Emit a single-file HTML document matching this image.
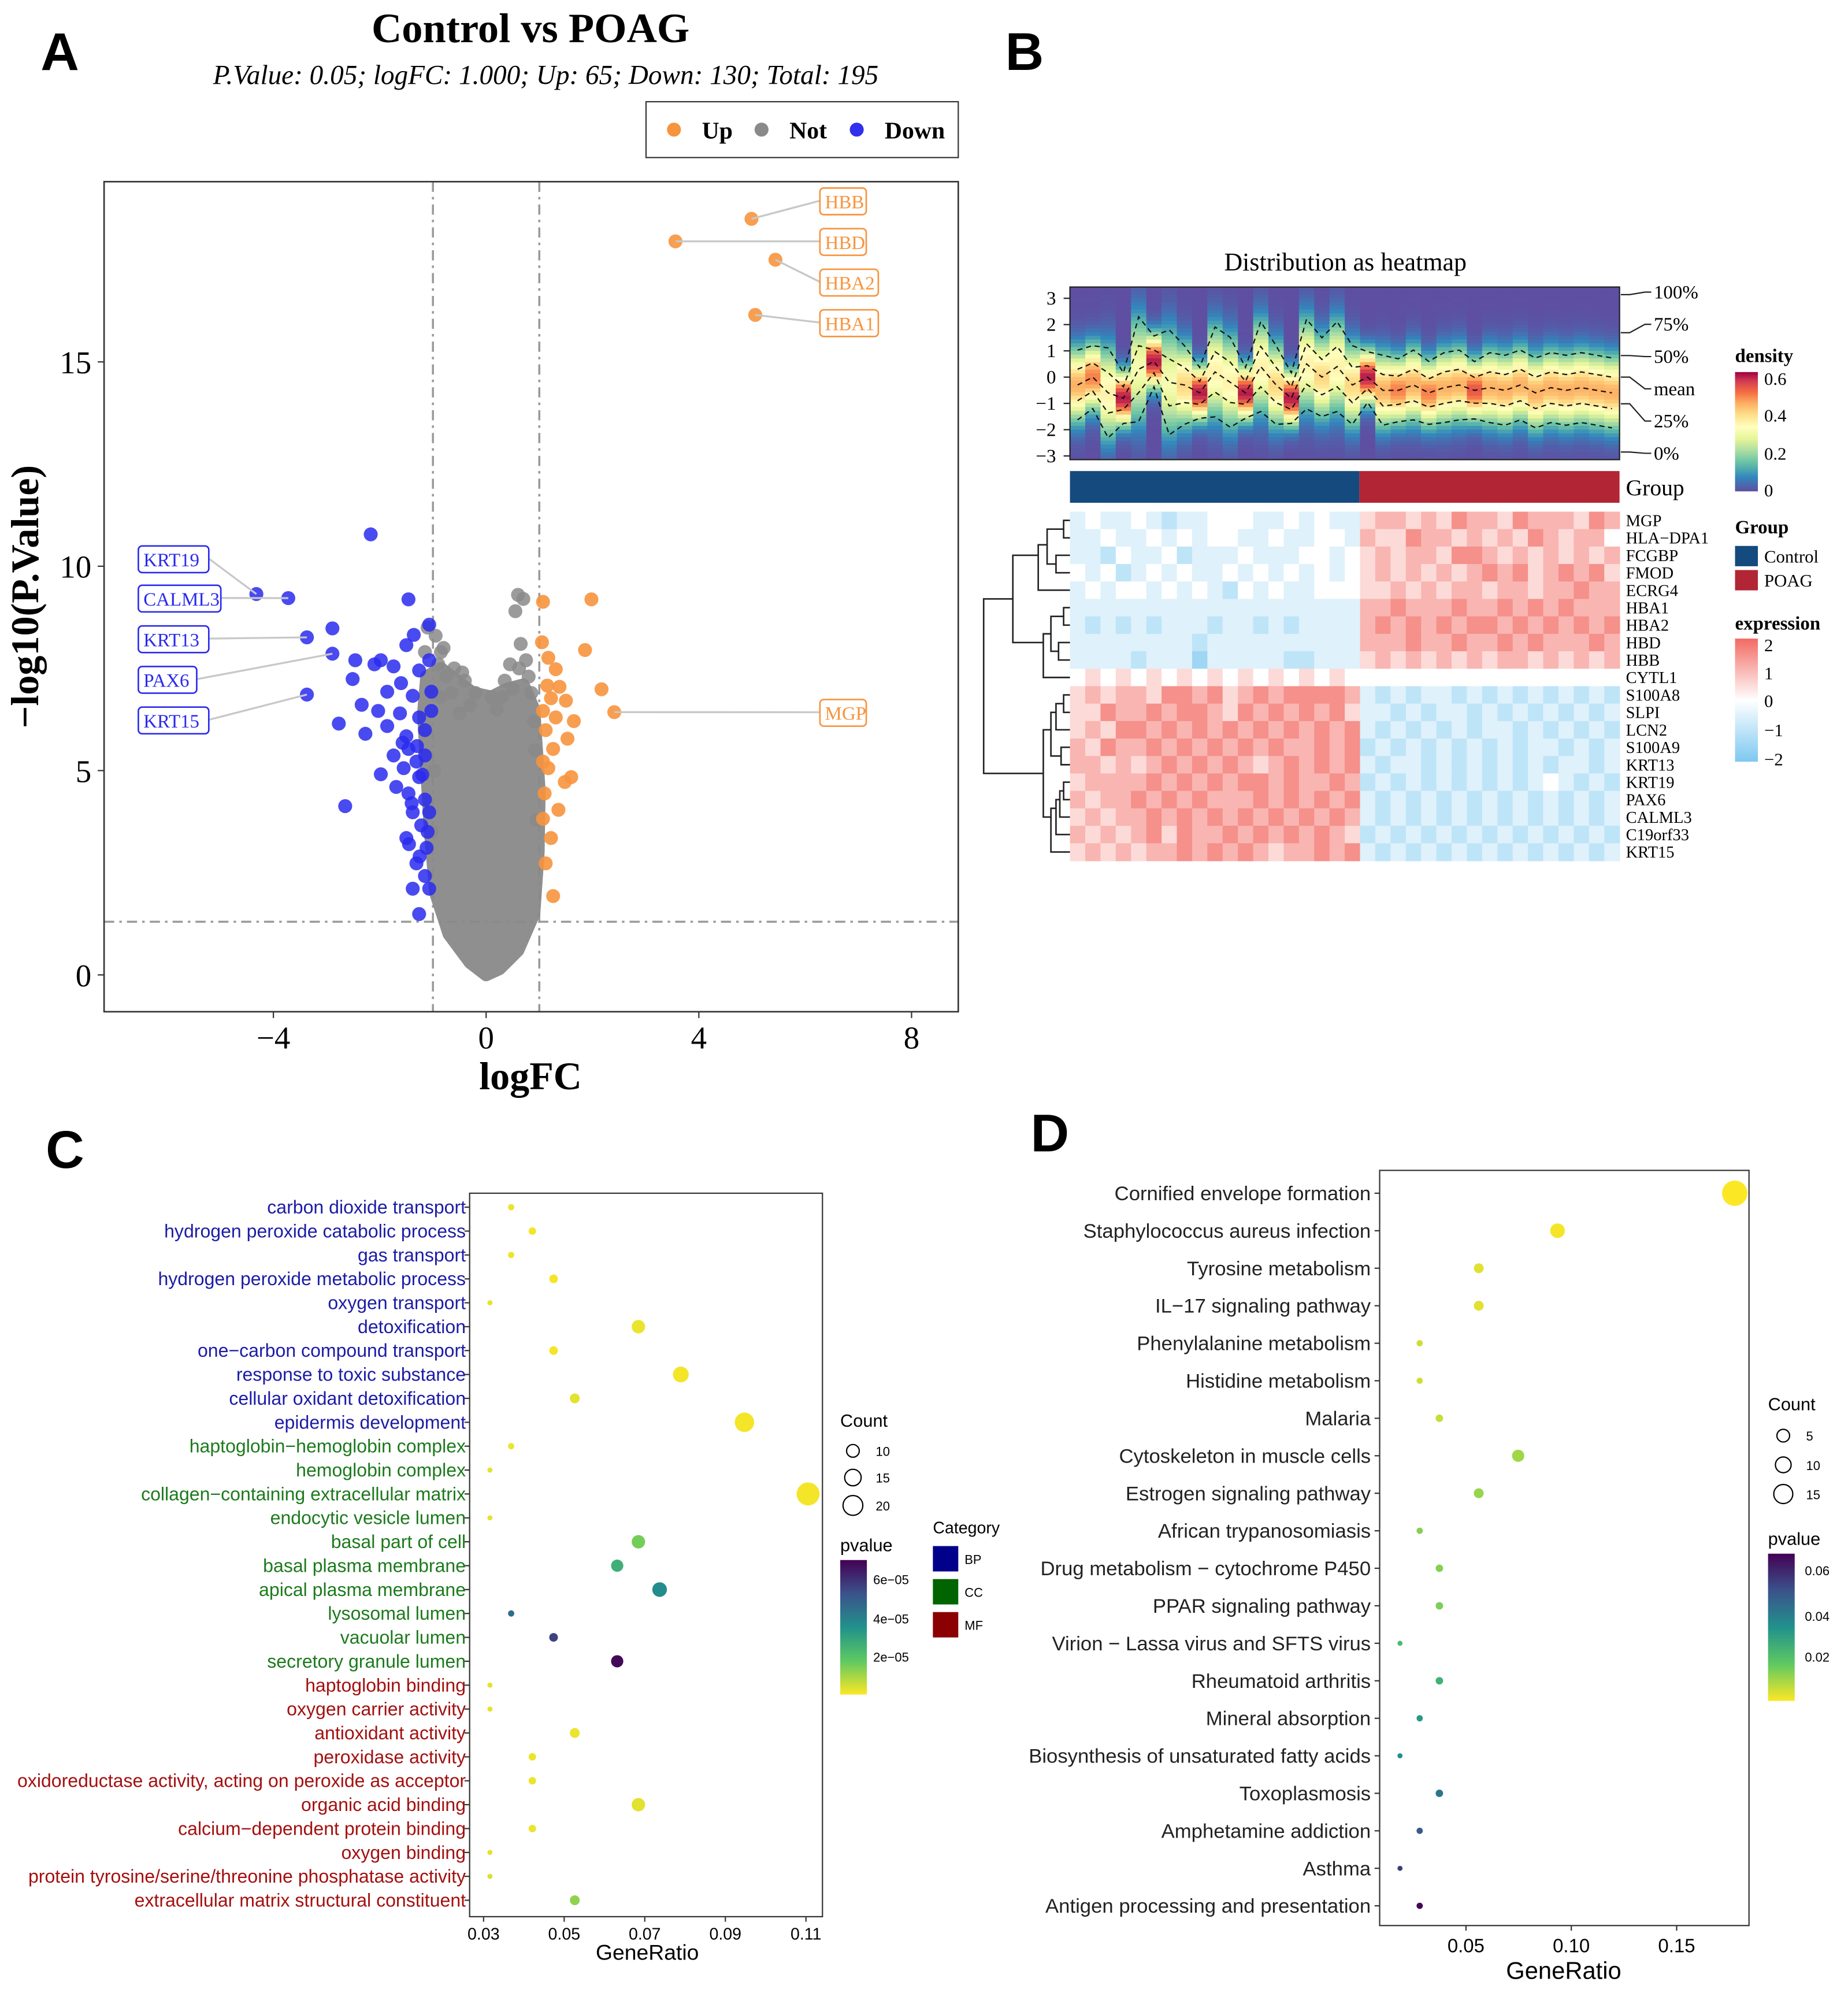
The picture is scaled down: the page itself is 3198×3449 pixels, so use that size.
<!DOCTYPE html>
<html><head><meta charset="utf-8"><title>Control vs POAG figure</title>
<style>
html,body{margin:0;padding:0;background:#fff;}
svg{display:block;}
.serif{font-family:"Liberation Serif",serif;}
.sans{font-family:"Liberation Sans",sans-serif;}
</style></head>
<body>
<svg id="fig" xmlns="http://www.w3.org/2000/svg" width="3198" height="3449" viewBox="0 0 1456 1570">
<rect x="0" y="0" width="1456" height="1570" fill="#fff"/>
<text x="32" y="55" class="sans" font-size="42" font-weight="bold">A</text>
<text x="792" y="55" class="sans" font-size="42" font-weight="bold">B</text>
<text x="36" y="920" class="sans" font-size="42" font-weight="bold">C</text>
<text x="812" y="907" class="sans" font-size="42" font-weight="bold">D</text>

<g id="panelA">
<text x="418" y="33" text-anchor="middle" class="serif" font-size="33" font-weight="bold">Control vs POAG</text>
<text x="430" y="66" text-anchor="middle" class="serif" font-size="21.5" font-style="italic">P.Value: 0.05; logFC: 1.000; Up: 65; Down: 130; Total: 195</text>
<g>
<rect x="509" y="80" width="246" height="44" fill="#fff" stroke="#333" stroke-width="1"/>
<circle cx="531" cy="102" r="5.5" fill="#F7943E"/>
<text x="553" y="109" class="serif" font-size="19" font-weight="bold">Up</text>
<circle cx="600" cy="102" r="5.5" fill="#8A8A8A"/>
<text x="622" y="109" class="serif" font-size="19" font-weight="bold">Not</text>
<circle cx="675" cy="102" r="5.5" fill="#3030EE"/>
<text x="697" y="109" class="serif" font-size="19" font-weight="bold">Down</text>
</g>
<text x="30" y="470" transform="rotate(-90 30 470)" text-anchor="middle" class="serif" font-size="31" font-weight="bold">−log10(P.Value)</text>
<text x="418" y="858" text-anchor="middle" class="serif" font-size="31" font-weight="bold">logFC</text>
<clipPath id="clipA"><rect x="82" y="143" width="673" height="654"/></clipPath>
<g id="aMarks" clip-path="url(#clipA)"></g>
<g id="aLabels"></g>
<rect x="82" y="143" width="673" height="654" fill="none" stroke="#333" stroke-width="1.2"/>
<g id="aAxes"></g>
</g>

<g id="panelB">
<text x="1060" y="213" text-anchor="middle" class="serif" font-size="20">Distribution as heatmap</text>
<g id="bDensity"></g>
<g id="bHeat"></g>
<g id="bDendro" stroke="#222" stroke-width="1.2" fill="none"></g>
<rect x="843" y="371" width="228" height="25" fill="#144A7E"/>
<rect x="1071" y="371" width="205" height="25" fill="#B22534"/>
<text x="1281" y="390" class="serif" font-size="18">Group</text>
<g>
<text x="1367" y="285" class="serif" font-size="15" font-weight="bold">density</text>
<defs>
<linearGradient id="gDens" x1="0" y1="1" x2="0" y2="0">
<stop offset="0" stop-color="#5E4FA2"/><stop offset="0.12" stop-color="#3288BD"/><stop offset="0.24" stop-color="#66C2A5"/><stop offset="0.34" stop-color="#ABDDA4"/><stop offset="0.44" stop-color="#E6F598"/><stop offset="0.54" stop-color="#FFFFBF"/><stop offset="0.64" stop-color="#FEE08B"/><stop offset="0.74" stop-color="#FDAE61"/><stop offset="0.83" stop-color="#F46D43"/><stop offset="0.92" stop-color="#D53E4F"/><stop offset="1" stop-color="#9E0142"/>
</linearGradient>
<linearGradient id="gExpr" x1="0" y1="1" x2="0" y2="0">
<stop offset="0" stop-color="#7DC8F0"/><stop offset="0.5" stop-color="#FFFFFF"/><stop offset="1" stop-color="#F26B63"/>
</linearGradient>
<linearGradient id="gVir" x1="0" y1="1" x2="0" y2="0">
<stop offset="0" stop-color="#FDE725"/><stop offset="0.25" stop-color="#5EC962"/><stop offset="0.5" stop-color="#21918C"/><stop offset="0.75" stop-color="#3B528B"/><stop offset="1" stop-color="#440154"/>
</linearGradient>
</defs>
<rect x="1367" y="293" width="18" height="94" fill="url(#gDens)"/>
<text x="1390" y="303" class="serif" font-size="14">0.6</text>
<text x="1390" y="332" class="serif" font-size="14">0.4</text>
<text x="1390" y="362" class="serif" font-size="14">0.2</text>
<text x="1390" y="391" class="serif" font-size="14">0</text>
</g>
<g>
<text x="1367" y="420" class="serif" font-size="15" font-weight="bold">Group</text>
<rect x="1367" y="430" width="18" height="16" fill="#144A7E"/>
<text x="1390" y="443" class="serif" font-size="14">Control</text>
<rect x="1367" y="449" width="18" height="16" fill="#B22534"/>
<text x="1390" y="462" class="serif" font-size="14">POAG</text>
</g>
<g>
<text x="1367" y="496" class="serif" font-size="15" font-weight="bold">expression</text>
<rect x="1367" y="503" width="18" height="97" fill="url(#gExpr)"/>
<text x="1390" y="513" class="serif" font-size="14">2</text>
<text x="1390" y="535" class="serif" font-size="14">1</text>
<text x="1390" y="557" class="serif" font-size="14">0</text>
<text x="1390" y="580" class="serif" font-size="14">−1</text>
<text x="1390" y="603" class="serif" font-size="14">−2</text>
</g>
</g>

<g id="panelC">
<rect x="370" y="940" width="278" height="570" fill="none" stroke="#333" stroke-width="1"/>
<g id="cMarks"></g>
<text x="510" y="1544" text-anchor="middle" class="sans" font-size="17">GeneRatio</text>
<g>
<text x="662" y="1124" class="sans" font-size="14">Count</text>
<circle cx="672" cy="1143" r="5" fill="none" stroke="#000"/>
<text x="690" y="1147" class="sans" font-size="10">10</text>
<circle cx="672" cy="1164" r="6.5" fill="none" stroke="#000"/>
<text x="690" y="1168" class="sans" font-size="10">15</text>
<circle cx="672" cy="1186" r="7.8" fill="none" stroke="#000"/>
<text x="690" y="1190" class="sans" font-size="10">20</text>
</g>
<g>
<text x="662" y="1222" class="sans" font-size="14">pvalue</text>
<rect x="662" y="1229" width="21" height="106" fill="url(#gVir)"/>
<text x="688" y="1248" class="sans" font-size="10">6e−05</text>
<text x="688" y="1279" class="sans" font-size="10">4e−05</text>
<text x="688" y="1309" class="sans" font-size="10">2e−05</text>
</g>
<g>
<text x="735" y="1208" class="sans" font-size="13">Category</text>
<rect x="735" y="1218" width="20" height="20" fill="#00008B"/>
<text x="760" y="1232" class="sans" font-size="10">BP</text>
<rect x="735" y="1244" width="20" height="20" fill="#006400"/>
<text x="760" y="1258" class="sans" font-size="10">CC</text>
<rect x="735" y="1270" width="20" height="20" fill="#8B0000"/>
<text x="760" y="1284" class="sans" font-size="10">MF</text>
</g>
</g>

<g id="panelD">
<rect x="1087" y="922" width="291" height="595" fill="none" stroke="#333" stroke-width="1"/>
<g id="dMarks"></g>
<text x="1232" y="1559" text-anchor="middle" class="sans" font-size="19">GeneRatio</text>
<g>
<text x="1393" y="1111" class="sans" font-size="14">Count</text>
<circle cx="1405" cy="1131" r="5" fill="none" stroke="#000"/>
<text x="1423" y="1135" class="sans" font-size="10">5</text>
<circle cx="1405" cy="1154" r="6.2" fill="none" stroke="#000"/>
<text x="1423" y="1158" class="sans" font-size="10">10</text>
<circle cx="1405" cy="1177" r="7.5" fill="none" stroke="#000"/>
<text x="1423" y="1181" class="sans" font-size="10">15</text>
</g>
<g>
<text x="1393" y="1217" class="sans" font-size="14">pvalue</text>
<rect x="1393" y="1224" width="21" height="116" fill="url(#gVir)"/>
<text x="1422" y="1241" class="sans" font-size="10">0.06</text>
<text x="1422" y="1277" class="sans" font-size="10">0.04</text>
<text x="1422" y="1309" class="sans" font-size="10">0.02</text>
</g>
</g>
</svg>

<script>
// ================= DATA =================
const upX = [4.99,3.56,5.44,5.06,2.41,1.07,1.98,1.86,2.17,1.05,1.17,1.31,1.38,1.22,1.5,1.31,1.65,1.12,1.53,1.26,1.17,1.6,1.48,1.1,1.36,1.07,1.22,1.12,1.26,1.07,1.07,1.15];
const upY = [18.5,17.95,17.5,16.15,6.43,9.13,9.19,7.95,6.99,8.14,7.76,7.48,7.05,6.77,6.71,6.3,6.21,5.99,5.78,5.53,5.06,4.84,4.72,4.44,4.04,3.82,3.35,2.73,1.93,5.22,6.46,7.08];
const upLabels = ["HBB","HBD","HBA2","HBA1","MGP"];
const downX = [-4.32,-3.72,-3.37,-2.89,-3.37,-2.17,-1.46,-1.07,-2.89,-1.5,-1.98,-2.46,-2.1,-1.74,-1.26,-2.51,-1.6,-1.86,-1.38,-2.34,-2.77,-2.03,-2.27,-1.62,-1.86,-1.5,-1.26,-1.15,-1.46,-1.15,-1.55,-1.26,-1.46,-1.15,-2.65,-1.38,-1.22,-1.5,-1.12,-1.31,-1.15,-1.38,-1.26,-1.74,-1.98,-1.69,-1.03,-1.03,-1.07,-1.36,-1.57,-1.31,-1.07,-1.07,-1.2,-1.4,-1.1,-1.25,-1.45,-1.3];
const downY = [9.32,9.22,8.26,7.86,6.86,10.78,9.19,8.57,8.48,8.07,7.7,7.7,7.6,7.55,7.45,7.24,7.14,6.93,6.83,6.61,6.15,6.46,5.9,6.4,6.09,5.84,6.3,5.99,5.53,5.37,5.06,4.84,4.44,4.29,4.13,3.98,3.66,3.35,3.11,2.73,2.42,2.11,1.49,5.37,4.91,4.6,6.93,6.46,7.7,8.32,5.68,5.22,3.98,2.11,4.9,4.2,3.5,2.9,3.2,5.6];
const downLabels = ["KRT19","CALML3","KRT13","PAX6","KRT15"];
const notX = [-0.95,-0.85,-0.8,-0.75,-1.1,0.6,0.7,0.55,0.65,0.75,0.8,-0.4,0.45,-0.65,-0.9,-0.6,0.3,0.5,0.85,-1.15,-0.3,0.2,0.9,-0.5,-0.98,-1.02,0.92,0.95,-0.2,0.1,0.35,-0.85,0.62,-0.45];
const notY = [8.3,7.9,8.0,7.3,8.5,9.3,9.2,8.9,8.1,7.7,7.3,7.2,7.6,6.9,7.6,7.5,6.8,7.0,6.9,7.9,6.6,6.5,6.2,6.4,5.0,3.5,5.5,3.8,6.9,6.8,7.2,6.8,7.5,7.4];
const cloudX = [0,-0.3,-0.7,-0.95,-1.05,-1.12,-1.18,-1.12,-0.85,-0.55,-0.25,0.1,0.4,0.7,0.9,1.0,0.98,0.9,0.6,0.25];
const cloudY = [0,0.3,1.0,2.0,3.5,5.0,6.4,7.3,7.5,7.2,6.9,6.8,7.0,7.1,6.5,4.5,3.0,1.5,0.6,0.15];
const aXTicks = [-4,0,4,8];
const aYTicks = [0,5,10,15];

const densMedian = [-0.3,0,-0.6,-0.8,0.3,0.6,-0.2,-0.3,-0.6,0.2,-0.2,-0.6,0.4,-0.3,-0.8,0.5,0,0.4,-0.3, 0,-0.5,-0.5,-0.3,-0.6,-0.4,-0.3,-0.5,-0.4,-0.5,-0.3,-0.6,-0.4,-0.5,-0.4,-0.5,-0.6];
const densPeak = [0.45,0.5,0.35,0.62,0.3,0.62,0.3,0.4,0.62,0.35,0.35,0.62,0.35,0.4,0.62,0.35,0.4,0.35,0.4, 0.62,0.45,0.5,0.45,0.5,0.45,0.45,0.55,0.45,0.45,0.45,0.45,0.45,0.45,0.45,0.45,0.45,0.45];
const densYTicks = [3,2,1,0,-1,-2,-3];
const geneNames = ["MGP","HLA−DPA1","FCGBP","FMOD","ECRG4","HBA1","HBA2","HBD","HBB","CYTL1","S100A8","SLPI","LCN2","S100A9","KRT13","KRT19","PAX6","CALML3","C19orf33","KRT15"];
const exprRows = [
"3433432334443343433"+"56656576657666576",
"3343343434433433443"+"65576656565765664",
"3324334233343334434"+"56566577656565656",
"4342343433434343434"+"56565656767567675",
"3434434343243433444"+"55656566566566766",
"3333333333333333333"+"66766676676767666",
"3232323332332323333"+"67676767767676767",
"3333333323333333333"+"66676676676766676",
"3333233313333322333"+"56565656566565656",
"4545454545454545454"+"44444444444444444",
"5656657767567677776"+"32323323232323232",
"5576676776576767675"+"33232332323232323",
"5657767676767676767"+"32323232332323232",
"6576676767676766767"+"23232323232332323",
"6656567676765676767"+"32332323232323323",
"5666676767677676676"+"23232323232343232",
"6566767676667676767"+"32323232323232323",
"5656676767676767676"+"32323232323232323",
"6565675766767676765"+"23232323232323232",
"5656566767676566767"+"32323232323232323"];

const goTerms = ["carbon dioxide transport","hydrogen peroxide catabolic process","gas transport","hydrogen peroxide metabolic process","oxygen transport","detoxification","one−carbon compound transport","response to toxic substance","cellular oxidant detoxification","epidermis development","haptoglobin−hemoglobin complex","hemoglobin complex","collagen−containing extracellular matrix","endocytic vesicle lumen","basal part of cell","basal plasma membrane","apical plasma membrane","lysosomal lumen","vacuolar lumen","secretory granule lumen","haptoglobin binding","oxygen carrier activity","antioxidant activity","peroxidase activity","oxidoreductase activity, acting on peroxide as acceptor","organic acid binding","calcium−dependent protein binding","oxygen binding","protein tyrosine/serine/threonine phosphatase activity","extracellular matrix structural constituent"];
const goCategory = ["BP","BP","BP","BP","BP","BP","BP","BP","BP","BP","CC","CC","CC","CC","CC","CC","CC","CC","CC","CC","MF","MF","MF","MF","MF","MF","MF","MF","MF","MF"];
const goCount = [7,8,7,9,6,13,9,15,10,18,7,6,21,6,13,12,14,7,9,12,6,6,10,8,8,13,8,6,6,10];
const goPvalue = [2e-6,1e-6,2e-6,1e-6,3e-6,2e-6,1e-6,1e-6,3e-6,1e-6,2e-6,3e-6,1e-6,3e-6,1.5e-5,2.6e-5,3.6e-5,4.5e-5,5.6e-5,6.8e-5,3e-6,3e-6,2e-6,2e-6,2e-6,3e-6,2e-6,3e-6,4e-6,1.2e-5];
const goTotal = 190;
const goXTicks = [0.03,0.05,0.07,0.09,0.11];
const goPMax = 7e-5;

const keggTerms = ["Cornified envelope formation","Staphylococcus aureus infection","Tyrosine metabolism","IL−17 signaling pathway","Phenylalanine metabolism","Histidine metabolism","Malaria","Cytoskeleton in muscle cells","Estrogen signaling pathway","African trypanosomiasis","Drug metabolism − cytochrome P450","PPAR signaling pathway","Virion − Lassa virus and SFTS virus","Rheumatoid arthritis","Mineral absorption","Biosynthesis of unsaturated fatty acids","Toxoplasmosis","Amphetamine addiction","Asthma","Antigen processing and presentation"];
const keggCount = [19,10,6,6,3,3,4,8,6,3,4,4,2,4,3,2,4,3,2,3];
const keggPvalue = [0.0001,0.001,0.003,0.003,0.005,0.005,0.006,0.01,0.011,0.013,0.013,0.014,0.022,0.025,0.032,0.036,0.042,0.049,0.056,0.068];
const keggTotal = 107;
const keggXTicks = [0.05,0.10,0.15];
const keggPMax = 0.069;

// ================= HELPERS =================
const NS = "http://www.w3.org/2000/svg";
function mk(tag, attrs, parent, txt){
  const e = document.createElementNS(NS, tag);
  for (const k in attrs) e.setAttribute(k, attrs[k]);
  if (txt !== undefined) e.textContent = txt;
  parent.appendChild(e);
  return e;
}
function hex2rgb(h){return [parseInt(h.slice(1,3),16),parseInt(h.slice(3,5),16),parseInt(h.slice(5,7),16)];}
function interp(stops, t){
  t = Math.max(0, Math.min(1, t));
  const n = stops.length - 1, p = t*n, i = Math.min(n-1, Math.floor(p)), f = p - i;
  const a = hex2rgb(stops[i]), b = hex2rgb(stops[i+1]);
  return "rgb(" + a.map((v,k)=>Math.round(v+(b[k]-v)*f)).join(",") + ")";
}
const VIR = ["#FDE725","#5EC962","#21918C","#3B528B","#440154"];
const SPEC = ["#5E4FA2","#3288BD","#66C2A5","#ABDDA4","#E6F598","#FFFFBF","#FEE08B","#FDAE61","#F46D43","#D53E4F","#9E0142"];
function fmtNeg(v){return v<0 ? "−"+Math.abs(v) : String(v);}

// ================= PANEL A =================
const xA = v => 383 + v*41.9;
const yA = v => 768 - v*32.2;
(function(){
  const g = document.getElementById("aMarks");
  let l = mk("line",{x1:xA(-1),x2:xA(-1),y1:143,y2:797,stroke:"#999","stroke-width":1.6,"stroke-dasharray":"8,4,2,4"},g);
  
  
  l = mk("line",{x1:xA(1),x2:xA(1),y1:143,y2:797,stroke:"#999","stroke-width":1.6,"stroke-dasharray":"8,4,2,4"},g);
  
  
  l = mk("line",{x1:82,x2:755,y1:yA(-Math.log10(0.05)),y2:yA(-Math.log10(0.05)),stroke:"#999","stroke-width":1.6,"stroke-dasharray":"8,4,2,4"},g);
  
  
  const pts = cloudX.map((x,i)=>xA(x).toFixed(1)+","+yA(cloudY[i]).toFixed(1)).join(" ");
  const cl = mk("polygon",{points:pts,fill:"#8A8A8A",stroke:"#8A8A8A","stroke-width":10,"stroke-linejoin":"round",opacity:0.95},g);
  
  
  notX.forEach((x,i)=>{
    const c = mk("circle",{cx:xA(x),cy:yA(notY[i]),r:5.5,fill:"#8A8A8A",opacity:0.85},g);
    
    
  });
  downX.forEach((x,i)=>{
    const c = mk("circle",{cx:xA(x),cy:yA(downY[i]),r:5.5,fill:"#2A2AEE",opacity:0.85},g);
    
    
  });
  upX.forEach((x,i)=>{
    const c = mk("circle",{cx:xA(x),cy:yA(upY[i]),r:5.5,fill:"#F7943E",opacity:0.9},g);
    
    
  });
  const lg = document.getElementById("aLabels");
  const upBoxY = [158,190,222,254,561];
  upLabels.forEach((name,i)=>{
    const px = xA(upX[i]), py = yA(upY[i]);
    const ln = mk("line",{x1:px,y1:py,x2:646,y2:upBoxY[i],stroke:"#C8C8C8","stroke-width":1.5},lg);
    
    
    const w = name.length*9.5+8;
    const r = mk("rect",{x:646,y:upBoxY[i]-10,width:w,height:21,rx:3,fill:"#fff",stroke:"#F7943E","stroke-width":1.2},lg);
    
    
    const t = mk("text",{x:650,y:upBoxY[i]+6,"font-family":"Liberation Serif, serif","font-size":15,fill:"#F7943E"},lg,name);
    
    
  });
  const downBoxY = [440,471,503,535,567];
  downLabels.forEach((name,i)=>{
    const px = xA(downX[i]), py = yA(downY[i]);
    const w = name.length*9.5+8;
    const ln = mk("line",{x1:px,y1:py,x2:109+w,y2:downBoxY[i],stroke:"#C8C8C8","stroke-width":1.5},lg);
    
    
    const r = mk("rect",{x:109,y:downBoxY[i]-10,width:w,height:21,rx:3,fill:"#fff",stroke:"#2A2AEE","stroke-width":1.2},lg);
    
    
    const t = mk("text",{x:113,y:downBoxY[i]+6,"font-family":"Liberation Serif, serif","font-size":15,fill:"#2A2AEE"},lg,name);
    
    
  });
  const ax = document.getElementById("aAxes");
  aXTicks.forEach(v=>{
    const tk = mk("line",{x1:xA(v),x2:xA(v),y1:797,y2:802,stroke:"#333"},ax);
    
    
    const t = mk("text",{x:xA(v),y:826,"text-anchor":"middle","font-family":"Liberation Serif, serif","font-size":25},ax,fmtNeg(v));
    
    
  });
  aYTicks.forEach(v=>{
    const tk = mk("line",{x1:77,x2:82,y1:yA(v),y2:yA(v),stroke:"#333"},ax);
    
    
    const t = mk("text",{x:72,y:yA(v)+9,"text-anchor":"end","font-family":"Liberation Serif, serif","font-size":25},ax,String(v));
    
    
  });
})();

// ================= PANEL B =================
(function(){
  const g = document.getElementById("bDensity");
  const X0 = 843, W = 433, nCol = densMedian.length, cw = W/nCol;
  const yD = v => 297 - v*20.7;
  const vTop = (297-226)/20.7, vBot = -(362-297)/20.7, nCell = 46;
  const ch = (362-226)/nCell;
  for (let i=0;i<nCol;i++){
    const m = densMedian[i], pk = densPeak[i], s = 0.399/pk;
    for (let k=0;k<nCell;k++){
      const v = vTop - (k+0.5)*(vTop-vBot)/nCell;
      const d = pk*Math.exp(-((v-m)*(v-m))/(2*s*s));
      const r = mk("rect",{x:(X0+i*cw).toFixed(2),y:(226+k*ch).toFixed(2),width:(cw+0.4).toFixed(2),height:(ch+0.4).toFixed(2),fill:interp(SPEC,d/0.65)},g);
      
      
    }
  }
  const qs = [0.674,0,-0.674,1.5,-1.5];
  qs.forEach(q=>{
    const pts = densMedian.map((m,i)=>{const s=0.399/densPeak[i];return (X0+(i+0.5)*cw).toFixed(1)+","+yD(m+q*s).toFixed(1);}).join(" ");
    const pl = mk("polyline",{points:pts,fill:"none",stroke:"#111","stroke-width":1,"stroke-dasharray":"4,3"},g);
    
    
  });
  const fr = mk("rect",{x:843,y:226,width:433,height:136,fill:"none",stroke:"#222","stroke-width":1},g);
  
  
  densYTicks.forEach(v=>{
    const tk = mk("line",{x1:838,x2:843,y1:yD(v),y2:yD(v),stroke:"#222"},g);
    
    
    const t = mk("text",{x:832,y:yD(v)+5,"text-anchor":"end","font-family":"Liberation Serif, serif","font-size":15},g,fmtNeg(v));
    
    
  });
  const qLabels = ["100%","75%","50%","mean","25%","0%"];
  const qFrom = [232,262,280,297,318,356];
  qLabels.forEach((q,i)=>{
    const ty = 230 + i*25.4;
    const p = mk("polyline",{points:"1277,"+qFrom[i]+" 1284,"+qFrom[i]+" 1296,"+ty+" 1301,"+ty,fill:"none",stroke:"#222","stroke-width":1},g);
    
    
    const t = mk("text",{x:1303,y:ty+5,"font-family":"Liberation Serif, serif","font-size":15},g,q);
    
    
  });

  const h = document.getElementById("bHeat");
  const rh = 275/geneNames.length;
  exprRows.forEach((row,ri)=>{
    for (let j=0;j<row.length;j++){
      const v = (parseInt(row[j])-4)/2;
      const col = v<0 ? interp(["#FFFFFF","#7DC8F0"],-v/2) : interp(["#FFFFFF","#F26B63"],v/2);
      const r = mk("rect",{x:(843+j*cw).toFixed(2),y:(403+ri*rh).toFixed(2),width:(cw+0.4).toFixed(2),height:(rh+0.4).toFixed(2),fill:col},h);
      
      
    }
    const t = mk("text",{x:1281,y:(403+(ri+0.5)*rh+4.5).toFixed(1),"font-family":"Liberation Serif, serif","font-size":13},h,geneNames[ri]);
    
    
  });

  const d = document.getElementById("bDendro");
  const ry = i => 403 + (i+0.5)*rh;
  function br(xl, ya, xa, yb, xb){
    const p = mk("path",{d:"M"+xa+","+ya+" H"+xl+" V"+yb+" H"+xb},d);
    
    
  }
  br(838, ry(0), 843, ry(1), 843);
  br(832, ry(2), 843, ry(3), 843);
  br(825, (ry(0)+ry(1))/2, 838, (ry(2)+ry(3))/2, 832);
  br(818, (ry(0)+ry(2)+1)/2+5, 825, ry(4), 843);
  br(838, ry(5), 843, ry(6), 843);
  br(834, ry(7), 843, ry(8), 843);
  br(828, (ry(5)+ry(6))/2, 838, (ry(7)+ry(8))/2, 834);
  br(822, (ry(5)+ry(8))/2, 828, ry(9), 843);
  br(798, (ry(0)+ry(4))/2, 818, (ry(5)+ry(9))/2, 822);
  br(838, ry(10), 843, ry(11), 843);
  br(832, (ry(10)+ry(11))/2, 838, ry(12), 843);
  br(836, ry(13), 843, ry(14), 843);
  br(828, (ry(10)+ry(12))/2, 832, (ry(13)+ry(14))/2, 836);
  br(838, ry(15), 843, ry(16), 843);
  br(835, (ry(15)+ry(16))/2, 838, ry(17), 843);
  br(832, (ry(15)+ry(17))/2, 835, ry(18), 843);
  br(828, (ry(15)+ry(18))/2, 832, ry(19), 843);
  br(822, (ry(10)+ry(14))/2, 828, (ry(15)+ry(19))/2, 828);
  br(775, (ry(0)+ry(9))/2, 798, (ry(10)+ry(19))/2, 822);
})();

// ================= PANEL C =================
(function(){
  const g = document.getElementById("cMarks");
  const xC = r => 381 + (r-0.03)*3175;
  const yC = i => 951 + i*18.83;
  const catColor = {BP:"#1c1ca6",CC:"#1d7a1d",MF:"#a31010"};
  goXTicks.forEach(v=>{
    const tk = mk("line",{x1:xC(v),x2:xC(v),y1:1510,y2:1514,stroke:"#333"},g);
    
    
    const t = mk("text",{x:xC(v),y:1528,"text-anchor":"middle","font-family":"Liberation Sans, sans-serif","font-size":13},g,v.toFixed(2));
    
    
  });
  goTerms.forEach((term,i)=>{
    const tk = mk("line",{x1:366,x2:370,y1:yC(i),y2:yC(i),stroke:"#333"},g);
    
    
    const t = mk("text",{x:367,y:yC(i)+5,"text-anchor":"end","font-family":"Liberation Sans, sans-serif","font-size":14.6,fill:catColor[goCategory[i]]},g,term);
    
    
    const ratio = goCount[i]/goTotal;
    const c = mk("circle",{cx:xC(ratio),cy:yC(i),r:(2+(goCount[i]-6)*0.47).toFixed(2),fill:interp(VIR,goPvalue[i]/goPMax)},g);
    
    
  });
})();

// ================= PANEL D =================
(function(){
  const g = document.getElementById("dMarks");
  const xD = r => 1072 + r*1660;
  const yDd = i => 940 + i*29.55;
  keggXTicks.forEach(v=>{
    const tk = mk("line",{x1:xD(v),x2:xD(v),y1:1517,y2:1521,stroke:"#333"},g);
    
    
    const t = mk("text",{x:xD(v),y:1538,"text-anchor":"middle","font-family":"Liberation Sans, sans-serif","font-size":15},g,v.toFixed(2));
    
    
  });
  keggTerms.forEach((term,i)=>{
    const tk = mk("line",{x1:1083,x2:1087,y1:yDd(i),y2:yDd(i),stroke:"#333"},g);
    
    
    const t = mk("text",{x:1080,y:yDd(i)+5.5,"text-anchor":"end","font-family":"Liberation Sans, sans-serif","font-size":15.8,fill:"#222"},g,term);
    
    
    const ratio = keggCount[i]/keggTotal;
    const c = mk("circle",{cx:xD(ratio),cy:yDd(i),r:(2+(keggCount[i]-2)*0.47).toFixed(2),fill:interp(VIR,keggPvalue[i]/keggPMax)},g);
    
    
  });
})();
</script>
</body></html>
